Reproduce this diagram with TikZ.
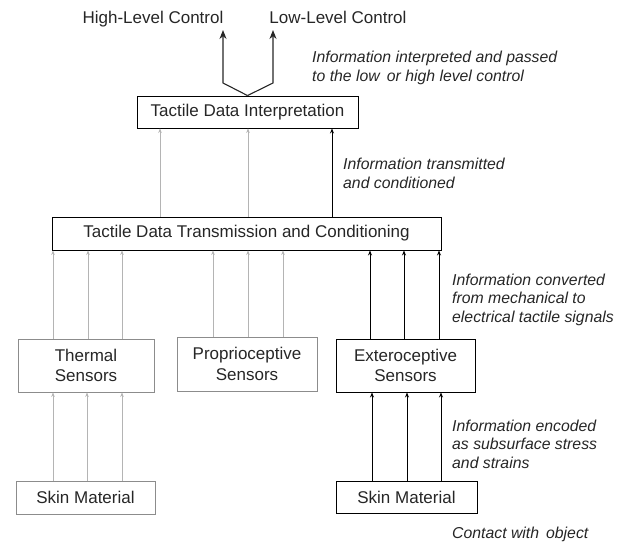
\documentclass[tikz,border=0pt]{standalone}
\usepackage{fontspec}
\setmainfont{Liberation Sans}
\usetikzlibrary{arrows.meta}
\definecolor{txt}{HTML}{262626}
\definecolor{lgray}{HTML}{B4B4B4}
\definecolor{bgray}{HTML}{8C8C8C}
\tikzset{
  box/.style={draw=#1, line width=0.9pt, inner sep=0pt, align=center, text=txt,
    font=\fontsize{17}{20.5}\selectfont},
  box/.default=black,
  garrow/.style={draw=lgray, line width=1pt, -{Stealth[length=4.5pt,width=3.5pt]}},
  karrow/.style={draw=black, line width=1pt, -{Stealth[length=5pt,width=4pt]}},
  bigarrow/.style={draw=black!85, line width=1.1pt, -{Stealth[length=9pt,width=7pt]}},
  note/.style={inner sep=0pt, align=left, anchor=base west, text=txt,
    font=\fontsize{15.8}{18.3}\selectfont\itshape},
  ctl/.style={inner sep=0pt, anchor=base, text=txt, font=\fontsize{17}{18}\selectfont},
}
\begin{document}
\begin{tikzpicture}[x=1pt,y=-1pt]
\useasboundingbox (0,0) rectangle (624,541);

% boxes
\node[box, minimum width=221pt, minimum height=32pt] (interp) at (247.5,112) {Tactile Data Interpretation};
\node[box, minimum width=389pt, minimum height=33pt] (trans) at (246.5,233.5) {Tactile Data Transmission and Conditioning};
\node[box=bgray, minimum width=136pt, minimum height=53pt] (thermal) at (86,365.5) {Thermal\\Sensors};
\node[box=bgray, minimum width=140pt, minimum height=54pt] (proprio) at (247,364) {Proprioceptive\\Sensors};
\node[box, minimum width=139pt, minimum height=53pt] (extero) at (405.5,365.5) {Exteroceptive\\Sensors};
\node[box=bgray, minimum width=139pt, minimum height=33pt] (skinL) at (85.5,497.5) {Skin Material};
\node[box, minimum width=141pt, minimum height=32pt] (skinR) at (406.5,497) {Skin Material};

% control labels
\node[ctl] (high) at (153,23) {High-Level Control};
\node[ctl] (low) at (338,23) {Low-Level Control};
\coordinate (hiEnd) at (223,30);
\coordinate (loEnd) at (273,30);
\coordinate (hiBend) at (223,83);
\coordinate (loBend) at (273,83);

\draw[bigarrow] (interp.north) -- (hiBend) -- (hiEnd);
\draw[bigarrow] (interp.north) -- (loBend) -- (loEnd);

% trans -> interp
\draw[garrow] (trans.north -| 160,0) -- (interp.south -| 160,0);
\draw[garrow] (trans.north -| 248,0) -- (interp.south -| 248,0);
\draw[karrow] (trans.north -| 332,0) -- (interp.south -| 332,0);

% sensors -> trans
\foreach \x in {53,88,122} \draw[garrow] (thermal.north -| \x,0) -- (trans.south -| \x,0);
\foreach \x in {213,248,283} \draw[garrow] (proprio.north -| \x,0) -- (trans.south -| \x,0);
\foreach \x in {370,404,439} \draw[karrow] (extero.north -| \x,0) -- (trans.south -| \x,0);

% skin -> sensors
\foreach \x in {53,87,122} \draw[garrow] (skinL.north -| \x,0) -- (thermal.south -| \x,0);
\foreach \x in {372,407,441} \draw[karrow] (skinR.north -| \x,0) -- (extero.south -| \x,0);

% notes (anchored at the baseline of the last line)
\node[note] (n1) at (312,81) {Information interpreted and passed\\to the low\, or high level control};
\node[note] (n2) at (343,188) {Information transmitted\\and conditioned};
\node[note] (n3) at (452,322) {Information converted\\from mechanical to\\electrical tactile signals};
\node[note] (n4) at (452,468) {Information encoded\\as subsurface stress\\and strains};
\node[note] (n5) at (452,538) {Contact with\, object};
\end{tikzpicture}
\end{document}
